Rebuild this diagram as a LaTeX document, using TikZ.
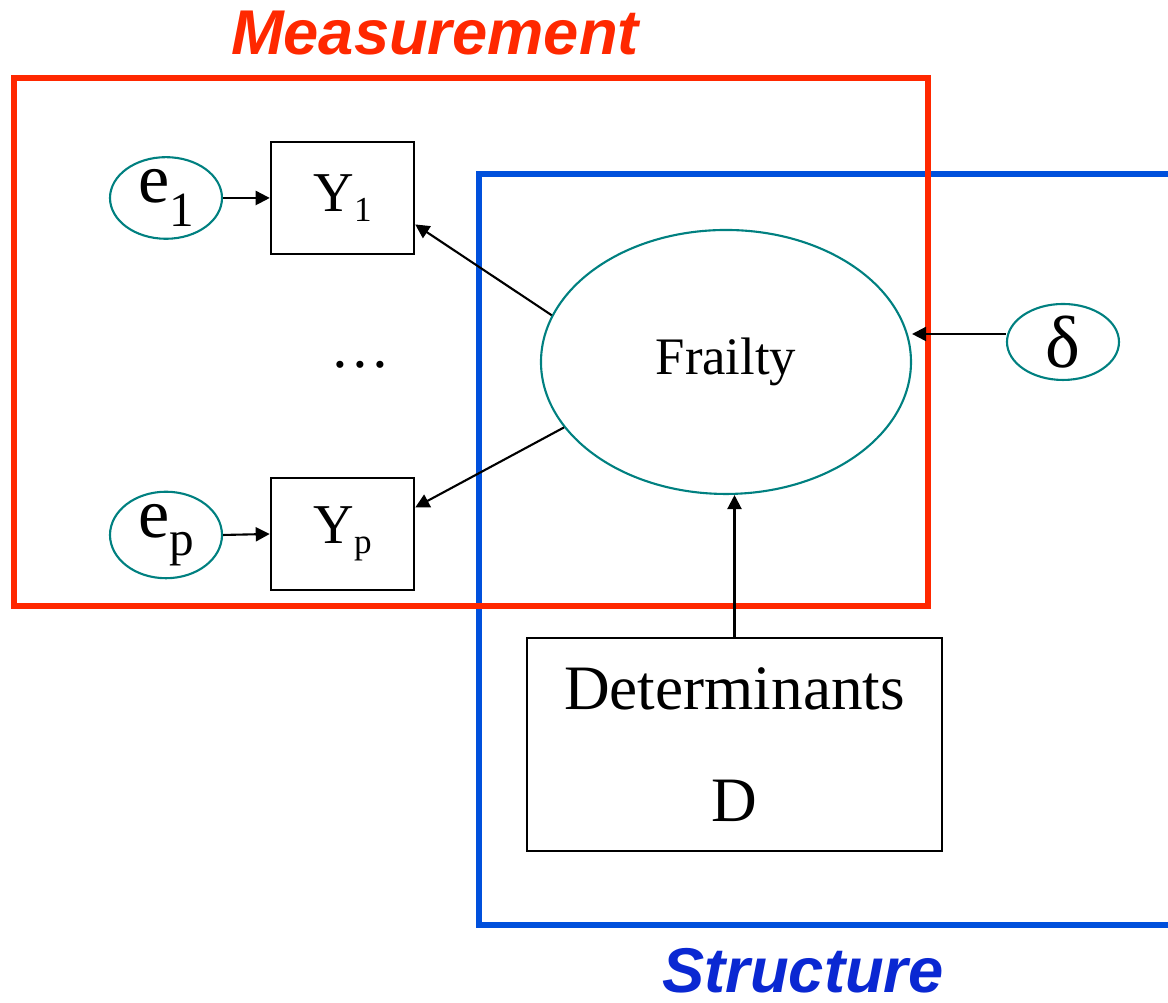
\documentclass[tikz,border=0pt]{standalone}
\usepackage{fontspec}
\setmainfont{Liberation Serif}
\newfontfamily\headfont{Liberation Sans}
\usetikzlibrary{positioning,calc}
\usetikzlibrary{arrows.meta,shapes.geometric}
\definecolor{MeasRed}{RGB}{255,40,0}
\definecolor{StrucBlue}{RGB}{0,80,220}
\definecolor{HeadBlue}{RGB}{10,40,210}
\definecolor{LatTeal}{RGB}{0,128,128}
\tikzset{
  latent/.style={ellipse,draw=LatTeal,line width=0.6pt,inner sep=0pt},
  obs/.style={rectangle,draw=black,line width=0.7pt,inner sep=0pt},
  arr/.style={draw=black,line width=0.6pt,-{Triangle[length=4pt,width=4pt]}},
  frame/.style={line width=1.6pt},
  head/.style={inner sep=0pt,font=\headfont\bfseries\itshape\fontsize{18}{20}\selectfont},
}

\begin{document}
\begin{tikzpicture}[x=1cm,y=1cm]
\useasboundingbox (0,0) rectangle (11.68,10.03);
\clip (0,0) rectangle (11.68,10.03);
% frames
\draw[frame,StrucBlue] (4.79,0.78) rectangle (12.2,8.29);
\draw[frame,MeasRed] (0.14,3.97) rectangle (9.28,9.25);
\node[head,text=MeasRed] (meas) at (4.35,9.70) {Measurement};
\node[head,text=HeadBlue] (struc) at (8.03,0.32) {Structure};
% indicators
\node[latent,minimum width=1.12cm,minimum height=0.74cm] (e1) at (1.66,8.05)
  {\fontsize{20}{20}\selectfont e\raisebox{-7pt}{\fontsize{14}{14}\selectfont 1}};
\node[obs,minimum width=1.43cm,minimum height=1.12cm] (y1) at (3.425,8.05)
  {\fontsize{16}{16}\selectfont Y\raisebox{-3pt}{\fontsize{10}{10}\selectfont 1}};
\node[latent,minimum width=1.12cm,minimum height=0.74cm] (ep) at (1.66,4.68)
  {\fontsize{20}{20}\selectfont e\raisebox{-5pt}{\fontsize{14}{14}\selectfont p}};
\node[obs,minimum width=1.43cm,minimum height=1.12cm] (yp) at (3.425,4.69)
  {\fontsize{16}{16}\selectfont Y\raisebox{-3pt}{\fontsize{10}{10}\selectfont p}};
\node (dots) at (3.6,6.38) {\fontsize{17}{17}\selectfont\dots};
% latent part
\node[latent,minimum width=3.70cm,minimum height=2.64cm,font=\fontsize{15}{15}\selectfont] (frailty) at (7.26,6.41) {Frailty};
\node[latent,minimum width=1.12cm,minimum height=0.76cm] (delta) at (10.63,6.61)
  {\fontsize{21}{21}\selectfont δ};
\node[obs,minimum width=4.15cm,minimum height=2.13cm,align=center,font=\fontsize{18}{22}\selectfont] (det) at (7.345,2.585)
  {Determinants\\[10pt]D};
% paths
\draw[arr] (e1.east) -- (y1.west);
\draw[arr] (ep.east) -- (yp.west);
\draw[arr] (frailty.165) -- (y1.-20);
\draw[arr] (frailty.202) -- (yp.20);
\draw[arr] ([yshift=0.08cm]delta.west) -- ([yshift=0.08cm]delta.west -| frailty.east);
\draw[arr] (det.north) -- (det.north |- frailty.south);
\end{tikzpicture}
\end{document}
